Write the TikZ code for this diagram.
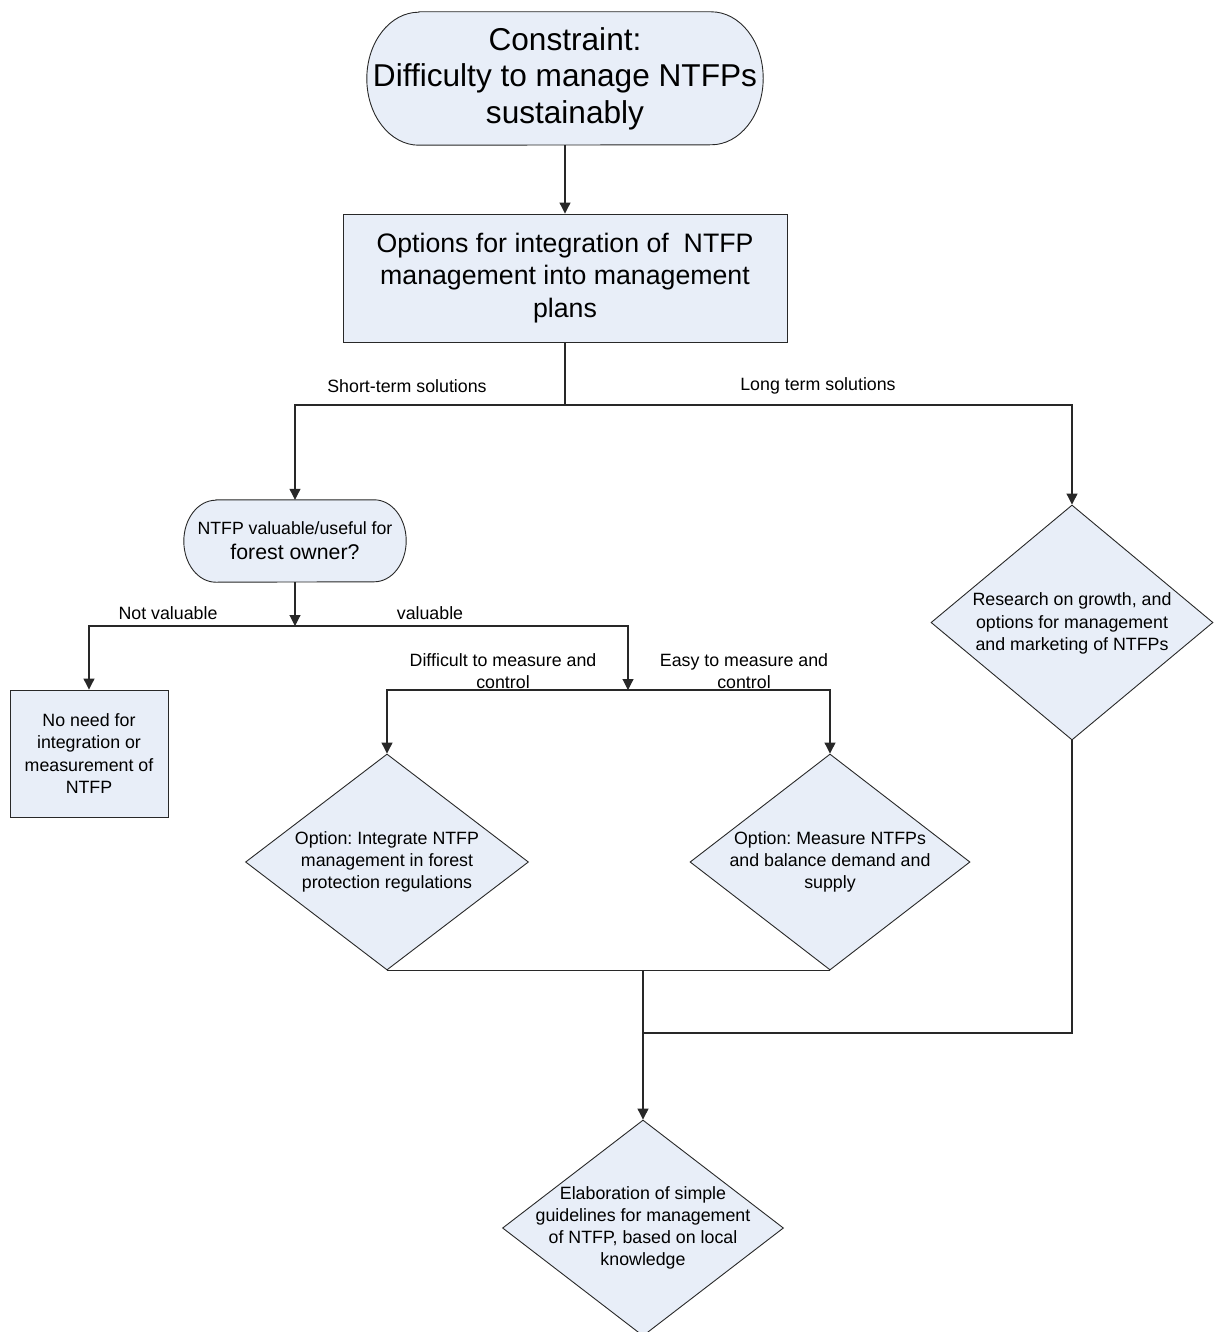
\documentclass[tikz,border=0pt]{standalone}
\usepackage{fontspec}
\setmainfont{Liberation Sans}
\usetikzlibrary{shapes.geometric,arrows.meta}
\pgfdeclarelayer{background}
\pgfsetlayers{background,main}
\definecolor{boxfill}{RGB}{232,238,248}
\definecolor{edge}{RGB}{40,40,40}
\frenchspacing

\begin{document}
\begin{tikzpicture}[x=1pt,y=1pt,
  every node/.style={inner sep=0pt, text=black},
  plainbox/.style={draw=edge, fill=boxfill, line width=0.9pt, align=center},
  dia/.style={shape=diamond, draw=edge, fill=boxfill, line width=0.9pt, inner sep=0pt},
  holder/.style={draw=none, align=center},
  txt/.style={align=center, font=\fontsize{17.8}{22.2}\selectfont},
  lbl/.style={align=center, font=\fontsize{17.8}{22}\selectfont},
  conn/.style={draw=edge, line width=1.1pt},
  arr/.style={conn, -{Triangle[width=11pt,length=11pt]}},
  term/.style={draw=edge, fill=boxfill, line width=0.9pt}
]
\useasboundingbox (0,0) rectangle (1213,-1332);

% ---- start terminal
\node[holder, minimum width=396pt, minimum height=133pt,
      font=\fontsize{31.6}{36.5}\selectfont] (top) at (565,-78.5)
  {Constraint:\\Difficulty to manage NTFPs\\sustainably};
\begin{pgfonlayer}{background}
\draw[term] ([xshift=52pt]top.north west) -- ([xshift=-52pt]top.north east)
  arc[start angle=90, end angle=-90, x radius=52pt, y radius=66.5pt]
  -- ([xshift=52pt]top.south west)
  arc[start angle=270, end angle=90, x radius=52pt, y radius=66.5pt] -- cycle;
\end{pgfonlayer}

% ---- options box
\node[plainbox, minimum width=444pt, minimum height=128pt,
      font=\fontsize{26.7}{32.5}\selectfont] (opt) at (565,-278)
  {Options for integration of\ \ NTFP\\management into management\\plans};

% ---- question terminal
\node[holder, minimum width=222pt, minimum height=82pt,
      font=\fontsize{17.7}{25}\selectfont] (ntfp) at (295,-541)
  {NTFP valuable/useful for\\{\fontsize{21.3}{25}\selectfont forest owner?}};
\begin{pgfonlayer}{background}
\draw[term] ([xshift=32pt]ntfp.north west) -- ([xshift=-32pt]ntfp.north east)
  arc[start angle=90, end angle=-90, x radius=32pt, y radius=41pt]
  -- ([xshift=32pt]ntfp.south west)
  arc[start angle=270, end angle=90, x radius=32pt, y radius=41pt] -- cycle;
\end{pgfonlayer}

% ---- outcome box
\node[plainbox, txt, minimum width=158pt, minimum height=127pt] (noneed) at (89,-753.5)
  {No need for\\integration or\\measurement of\\NTFP};

% ---- decision diamonds
\node[dia, minimum width=283pt, minimum height=216pt] (dl) at (387,-862) {};
\node[txt] (dltext) at (dl.center)
  {Option: Integrate NTFP\\management in forest\\protection regulations};

\node[dia, minimum width=280pt, minimum height=216pt] (dr) at (830,-862) {};
\node[txt] (drtext) at (dr.center)
  {Option: Measure NTFPs\\and balance demand and\\supply};

\node[dia, minimum width=282pt, minimum height=235pt] (res) at (1072,-622.5) {};
\node[txt] (restext) at ([yshift=-1pt]res.center)
  {Research on growth, and\\options for management\\and marketing of NTFPs};

\node[dia, minimum width=281pt, minimum height=216pt] (fin) at (643,-1228) {};
\node[txt] (fintext) at (fin.center)
  {Elaboration of simple\\guidelines for management\\of NTFP, based on local\\knowledge};

% ---- junction points
\coordinate (j1) at (565,-405);
\coordinate (j2) at (295,-626);
\coordinate (j3) at (628,-690);
\coordinate (j4) at (643,-970);
\coordinate (j5) at (643,-1033);

% ---- connectors
\draw[arr] (top.south) -- (opt.north);
\draw[conn] (opt.south) -- (j1);
\draw[arr] (j1) -| (ntfp.north);
\draw[arr] (j1) -| (res.north);
\draw[arr] (ntfp.south) -- (j2);
\draw[arr] (j2) -| (noneed.north);
\draw[arr] (j2) -| (j3);
\draw[arr] (j3) -| (dl.north);
\draw[arr] (j3) -| (dr.north);
\draw[conn] (dl.south) -- (dr.south);
\draw[arr] (j4) -- (fin.north);
\draw[conn] (res.south) |- (j5);

% ---- branch labels
\node[lbl] (lshort) at (407,-386) {Short-term solutions};
\node[lbl] (llong) at (818,-386) {Long term solutions};
\node[lbl] (lnot) at (168,-613) {Not valuable};
\node[lbl] (lval) at (430,-613) {valuable};
\node[lbl] (ldiff) at (503,-671) {Difficult to measure and\\control};
\node[lbl] (leasy) at (744,-671) {Easy to measure and\\control};
\end{tikzpicture}
\end{document}
